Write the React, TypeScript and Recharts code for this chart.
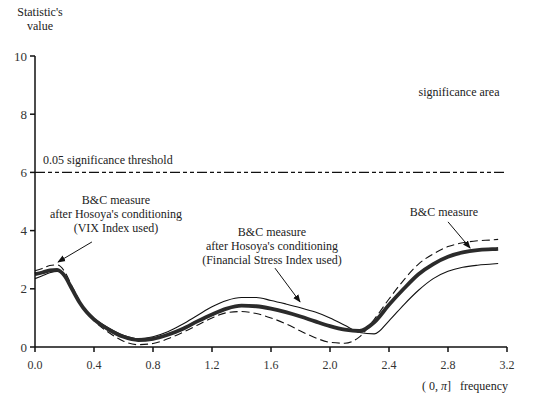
import React from "react";
import { LineChart, Line, XAxis, YAxis, ReferenceLine, Customized } from "recharts";

const freq = [0, 0.05, 0.1, 0.15, 0.2, 0.25, 0.3, 0.35, 0.4, 0.5, 0.6, 0.7, 0.8, 0.9, 1.0, 1.1, 1.2, 1.3, 1.4, 1.5, 1.6, 1.7, 1.8, 1.9, 2.0, 2.1, 2.2, 2.3, 2.4, 2.5, 2.6, 2.7, 2.8, 2.9, 3.0, 3.1, 3.14];
const bcMeasure = [2.5, 2.56, 2.63, 2.65, 2.45, 2.0, 1.55, 1.2, 0.95, 0.6, 0.35, 0.24, 0.28, 0.42, 0.62, 0.88, 1.12, 1.32, 1.42, 1.4, 1.32, 1.2, 1.05, 0.88, 0.72, 0.6, 0.55, 0.85, 1.45, 2.0, 2.5, 2.85, 3.1, 3.25, 3.33, 3.36, 3.37];
const bcVix = [2.62, 2.7, 2.8, 2.82, 2.6, 2.1, 1.6, 1.2, 0.9, 0.5, 0.2, 0.08, 0.12, 0.28, 0.5, 0.75, 1.0, 1.18, 1.22, 1.15, 1.0, 0.8, 0.55, 0.32, 0.16, 0.13, 0.35, 0.95, 1.65, 2.3, 2.85, 3.2, 3.45, 3.58, 3.65, 3.68, 3.7];
const bcFsi = [2.35, 2.45, 2.55, 2.6, 2.45, 2.0, 1.55, 1.2, 0.98, 0.65, 0.4, 0.28, 0.35, 0.52, 0.78, 1.08, 1.38, 1.6, 1.7, 1.7, 1.6, 1.48, 1.35, 1.2, 1.0, 0.75, 0.5, 0.45, 0.9, 1.45, 1.95, 2.35, 2.6, 2.74, 2.81, 2.85, 2.87];

const xTicks = [0, 0.4, 0.8, 1.2, 1.6, 2.0, 2.4, 2.8, 3.2];
const yTicks = [0, 2, 4, 6, 8, 10];
const threshold = 6;

const data = freq.map((f, i) => ({ f, bc: bcMeasure[i], vix: bcVix[i], fsi: bcFsi[i] }));

const FONT = "'Liberation Serif', 'Times New Roman', serif";

const Texts = () => (
  <g fontFamily={FONT} fill="#222" fontSize={12}>
    <text x={40} y={16} textAnchor="middle">Statistic's</text>
    <text x={40} y={30} textAnchor="middle">value</text>
    <text x={43} y={164}>0.05 significance threshold</text>
    <text x={459} y={96} textAnchor="middle">significance area</text>
    <text x={116} y={204} textAnchor="middle">B&amp;C measure</text>
    <text x={116} y={218} textAnchor="middle">after Hosoya's conditioning</text>
    <text x={116} y={232} textAnchor="middle">(VIX Index used)</text>
    <text x={272} y={236} textAnchor="middle">B&amp;C measure</text>
    <text x={272} y={250} textAnchor="middle">after Hosoya's conditioning</text>
    <text x={272} y={264} textAnchor="middle">(Financial Stress Index used)</text>
    <text x={444} y={216} textAnchor="middle">B&amp;C measure</text>
    <text x={508} y={390} textAnchor="end">
      ( 0, <tspan fontStyle="italic">π</tspan>]{"\u00a0\u00a0\u00a0"}frequency
    </text>
  </g>
);

const Defs = () => (
  <defs>
    <marker id="arrow" viewBox="0 0 10 10" refX="9" refY="5" markerWidth="8" markerHeight="8" orient="auto-start-reverse" markerUnits="userSpaceOnUse">
      <path d="M0,1 L10,5 L0,9 z" fill="#111" />
    </marker>
  </defs>
);

export default function App() {
  return (
    <div style={{ position: "absolute", left: 0, top: 0, width: 539, height: 401, background: "#fff" }}>
      <LineChart width={539} height={401} data={data} margin={{ top: 56, right: 32, bottom: 0, left: 0 }}>
        <Customized component={Defs} />
        <XAxis
          dataKey="f"
          type="number"
          domain={[0, 3.2]}
          ticks={xTicks}
          tickFormatter={(v: number) => v.toFixed(1)}
          height={54}
          stroke="#111"
          strokeWidth={1.5}
          tickSize={5}
          tickMargin={8}
          tick={{ fontFamily: FONT, fontSize: 12, fill: "#333" }}
          interval={0}
        />
        <YAxis
          type="number"
          domain={[0, 10]}
          ticks={yTicks}
          width={35}
          stroke="#111"
          strokeWidth={1.5}
          tickSize={5}
          tickMargin={3}
          tick={{ fontFamily: FONT, fontSize: 13, fill: "#333" }}
          interval={0}
        />
        <ReferenceLine y={threshold} stroke="#111" strokeWidth={1.2} strokeDasharray="10 3 4 3 4 3" />
        <Line type="monotone" dataKey="fsi" stroke="#111" strokeWidth={1.1} dot={false} isAnimationActive={false} />
        <Line type="monotone" dataKey="vix" stroke="#111" strokeWidth={1.1} strokeDasharray="8 4" dot={false} isAnimationActive={false} />
        <Line type="monotone" dataKey="bc" stroke="#2b2b2b" strokeWidth={3.8} dot={false} isAnimationActive={false} />
        <ReferenceLine segment={[{ x: 0.386, y: 3.61 }, { x: 0.156, y: 2.92 }]} stroke="#111" strokeWidth={1} markerEnd="url(#arrow)" />
        <ReferenceLine segment={[{ x: 1.627, y: 2.71 }, { x: 1.797, y: 1.55 }]} stroke="#111" strokeWidth={1} markerEnd="url(#arrow)" />
        <ReferenceLine segment={[{ x: 2.8, y: 4.3 }, { x: 2.95, y: 3.4 }]} stroke="#111" strokeWidth={1} markerEnd="url(#arrow)" />
        <Customized component={Texts} />
      </LineChart>
    </div>
  );
}
